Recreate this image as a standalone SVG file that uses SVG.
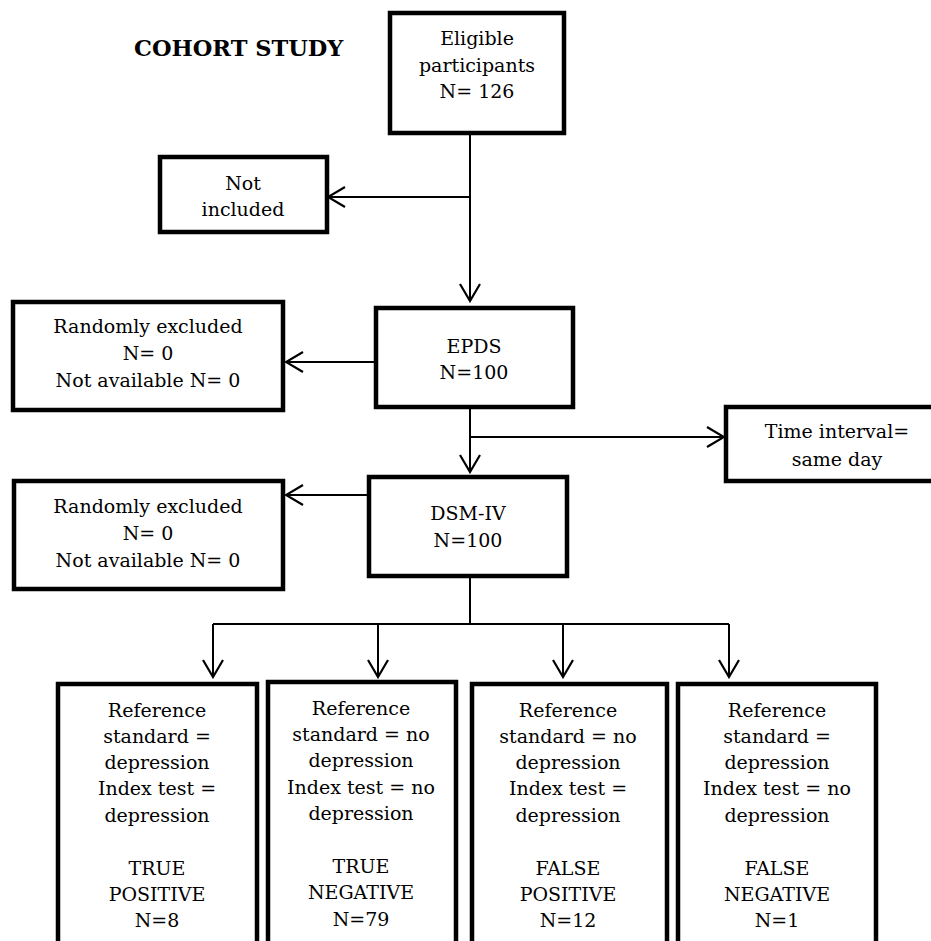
<svg xmlns="http://www.w3.org/2000/svg" width="931" height="941" viewBox="0 0 931 941">
  <style>
    .box { fill: #ffffff; stroke: #000000; stroke-width: 4.5; }
    .lbl { font-family: 'DejaVu Serif', serif; font-size: 19px; fill: #000000; text-anchor: middle; }
    .title { font-family: 'DejaVu Serif', serif; font-size: 22.5px; font-weight: bold; fill: #000000; }
    .conn { fill: none; stroke: #000000; stroke-width: 2; }
  </style>
  <defs>
    <marker id="arrow" markerUnits="userSpaceOnUse" viewBox="-20 -12 22 24" refX="0" refY="0" markerWidth="22" markerHeight="24" orient="auto">
      <path d="M -17 -10 L 0 0 L -17 10" fill="none" stroke="#000000" stroke-width="2.2"/>
    </marker>
  </defs>

  <rect width="931" height="941" fill="#ffffff"/>

  <text class="title" x="134" y="56">COHORT STUDY</text>

  <!-- connectors -->
  <g id="connectors">
    <path class="conn" d="M 470 133 L 470 301" marker-end="url(#arrow)"/>
    <path class="conn" d="M 470 197 L 328 197" marker-end="url(#arrow)"/>
    <path class="conn" d="M 376 362 L 286 362" marker-end="url(#arrow)"/>
    <path class="conn" d="M 470 407 L 470 472" marker-end="url(#arrow)"/>
    <path class="conn" d="M 470 437 L 724 437" marker-end="url(#arrow)"/>
    <path class="conn" d="M 369 495 L 286 495" marker-end="url(#arrow)"/>
    <path class="conn" d="M 470 576 L 470 624 M 213 624 L 729 624"/>
    <path class="conn" d="M 213 624 L 213 677" marker-end="url(#arrow)"/>
    <path class="conn" d="M 378 624 L 378 677" marker-end="url(#arrow)"/>
    <path class="conn" d="M 563 624 L 563 677" marker-end="url(#arrow)"/>
    <path class="conn" d="M 729 624 L 729 677" marker-end="url(#arrow)"/>
  </g>

  <!-- eligible participants -->
  <g id="eligible">
    <rect class="box" x="390" y="13" width="174" height="120"/>
    <text class="lbl" x="477" y="45">Eligible</text>
    <text class="lbl" x="477" y="72">participants</text>
    <text class="lbl" x="477" y="98">N= 126</text>
  </g>

  <g id="not-included">
    <rect class="box" x="160" y="157" width="167" height="75"/>
    <text class="lbl" x="243" y="190">Not</text>
    <text class="lbl" x="243" y="216">included</text>
  </g>

  <g id="epds">
    <rect class="box" x="376" y="308" width="197" height="99"/>
    <text class="lbl" x="474" y="353">EPDS</text>
    <text class="lbl" x="474" y="379">N=100</text>
  </g>

  <g id="excluded-epds">
    <rect class="box" x="13" y="302" width="270" height="108"/>
    <text class="lbl" x="148" y="333">Randomly excluded</text>
    <text class="lbl" x="148" y="360">N= 0</text>
    <text class="lbl" x="148" y="387">Not available N= 0</text>
  </g>

  <g id="time-interval">
    <rect class="box" x="726" y="407" width="215" height="74"/>
    <text class="lbl" x="837" y="438">Time interval=</text>
    <text class="lbl" x="837" y="466">same day</text>
  </g>

  <g id="dsm">
    <rect class="box" x="369" y="477" width="198" height="99"/>
    <text class="lbl" x="468" y="520">DSM-IV</text>
    <text class="lbl" x="468" y="547">N=100</text>
  </g>

  <g id="excluded-dsm">
    <rect class="box" x="14" y="481" width="269" height="108"/>
    <text class="lbl" x="148" y="513">Randomly excluded</text>
    <text class="lbl" x="148" y="540">N= 0</text>
    <text class="lbl" x="148" y="567">Not available N= 0</text>
  </g>

  <!-- outcome boxes -->
  <g id="true-positive">
    <rect class="box" x="58" y="684" width="199" height="280"/>
    <text class="lbl" x="157" y="717">Reference</text>
    <text class="lbl" x="157" y="743">standard =</text>
    <text class="lbl" x="157" y="769">depression</text>
    <text class="lbl" x="157" y="795">Index test =</text>
    <text class="lbl" x="157" y="822">depression</text>
    <text class="lbl" x="157" y="875">TRUE</text>
    <text class="lbl" x="157" y="901">POSITIVE</text>
    <text class="lbl" x="157" y="927">N=8</text>
  </g>

  <g id="true-negative">
    <rect class="box" x="268" y="682" width="188" height="280"/>
    <text class="lbl" x="361" y="715">Reference</text>
    <text class="lbl" x="361" y="741">standard = no</text>
    <text class="lbl" x="361" y="767">depression</text>
    <text class="lbl" x="361" y="794">Index test = no</text>
    <text class="lbl" x="361" y="820">depression</text>
    <text class="lbl" x="361" y="873">TRUE</text>
    <text class="lbl" x="361" y="899">NEGATIVE</text>
    <text class="lbl" x="361" y="926">N=79</text>
  </g>

  <g id="false-positive">
    <rect class="box" x="472" y="684" width="195" height="280"/>
    <text class="lbl" x="568" y="717">Reference</text>
    <text class="lbl" x="568" y="743">standard = no</text>
    <text class="lbl" x="568" y="769">depression</text>
    <text class="lbl" x="568" y="795">Index test =</text>
    <text class="lbl" x="568" y="822">depression</text>
    <text class="lbl" x="568" y="875">FALSE</text>
    <text class="lbl" x="568" y="901">POSITIVE</text>
    <text class="lbl" x="568" y="927">N=12</text>
  </g>

  <g id="false-negative">
    <rect class="box" x="678" y="684" width="198" height="280"/>
    <text class="lbl" x="777" y="717">Reference</text>
    <text class="lbl" x="777" y="743">standard =</text>
    <text class="lbl" x="777" y="769">depression</text>
    <text class="lbl" x="777" y="795">Index test = no</text>
    <text class="lbl" x="777" y="822">depression</text>
    <text class="lbl" x="777" y="875">FALSE</text>
    <text class="lbl" x="777" y="901">NEGATIVE</text>
    <text class="lbl" x="777" y="927">N=1</text>
  </g>
</svg>
